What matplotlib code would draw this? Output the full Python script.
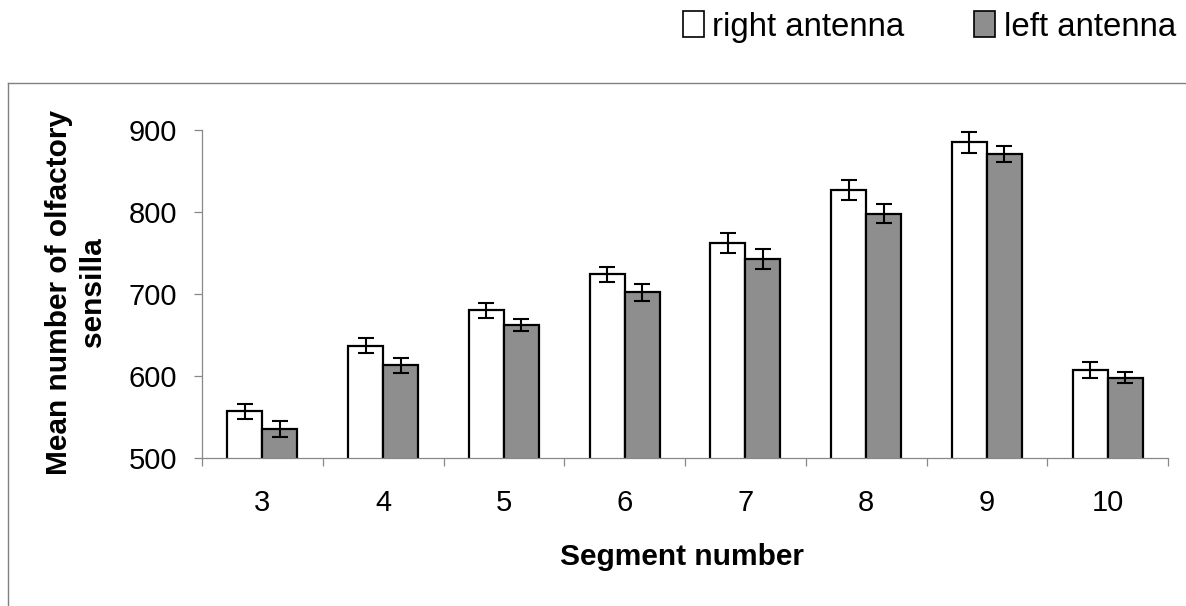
import matplotlib
matplotlib.use("Agg")
import matplotlib.pyplot as plt
from matplotlib.patches import Patch
from matplotlib.lines import Line2D
import numpy as np

plt.rcParams['font.family'] = ['Liberation Sans', 'DejaVu Sans']

segments = ['3', '4', '5', '6', '7', '8', '9', '10']
right_mean = [557, 637, 680, 724, 762, 827, 885, 607]
right_err = [9, 9.5, 9, 9.5, 12, 12.5, 13, 10]
left_mean = [535, 613, 662, 702, 743, 798, 871, 598]
left_err = [10, 9.5, 7, 10, 12, 12, 10, 7]
yticks = [500, 600, 700, 800, 900]

W, H = 1186, 606
fig = plt.figure(figsize=(W / 100, H / 100), dpi=100)
ax = fig.add_axes([202 / W, 1 - 458 / H, (1168 - 202) / W, (458 - 130) / H])

x = np.arange(len(segments))
bw = 0.29
GRAY = '#8e8e8e'
ekw = dict(elinewidth=1.5, capthick=1.5, ecolor='black')
ax.bar(x - bw / 2, right_mean, bw, color='white', edgecolor='black', linewidth=1.6,
       yerr=right_err, capsize=6, error_kw=ekw, zorder=2)
ax.bar(x + bw / 2, left_mean, bw, color=GRAY, edgecolor='black', linewidth=1.6,
       yerr=left_err, capsize=6, error_kw=ekw, zorder=2)

ax.set_xlim(-0.5, len(segments) - 0.5)
ax.set_ylim(500, 900)
ax.set_yticks(yticks)
ax.set_yticklabels([str(v) for v in yticks], fontsize=21)

ax.set_xticks(np.arange(len(segments) + 1) - 0.5)
ax.set_xticklabels([])
ax.set_xticks(x, minor=True)
ax.set_xticklabels(segments, minor=True, fontsize=21)
ax.tick_params(axis='x', which='minor', length=0, pad=22)
ax.tick_params(axis='x', which='major', length=6, color='#888888', width=0.9, direction='out')
ax.tick_params(axis='y', which='major', length=6, color='#888888', width=0.9, direction='out', pad=12)

for s in ['top', 'right']:
    ax.spines[s].set_visible(False)
for s in ['left', 'bottom']:
    ax.spines[s].set_color('#888888')
    ax.spines[s].set_linewidth(0.9)

fig.text(682 / W, 1 - 557 / H, 'Segment number', ha='center', va='center',
         fontsize=21.5, fontweight='bold')
fig.text(76 / W, 1 - 292 / H, 'Mean number of olfactory\nsensilla', ha='center', va='center',
         rotation=90, fontsize=21.5, fontweight='bold', multialignment='center', linespacing=1.25)

# outer chart frame (partially visible)
fig.add_artist(Line2D([8 / W, 8 / W], [1 - 83 / H, 0], transform=fig.transFigure,
                      color='#808080', linewidth=1.0))
fig.add_artist(Line2D([8 / W, 1], [1 - 83 / H, 1 - 83 / H], transform=fig.transFigure,
                      color='#808080', linewidth=1.0))

handles = [Patch(facecolor='white', edgecolor='black', linewidth=1.2),
           Patch(facecolor=GRAY, edgecolor='black', linewidth=1.2)]
fig.legend(handles, ['right antenna', 'left antenna'], ncol=2, frameon=False,
           loc='center right', bbox_to_anchor=(1176 / W, 1 - 27 / H), fontsize=23.8,
           handlelength=0.65, handleheight=0.8, handletextpad=0.25, columnspacing=2.1,
           borderpad=0, borderaxespad=0)

fig.savefig('out.png', dpi=100)
